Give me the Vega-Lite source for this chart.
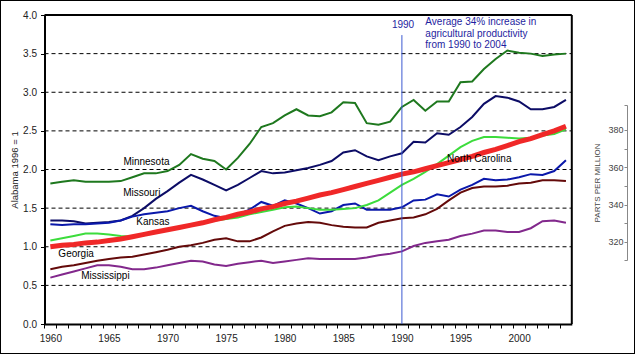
{
  "$schema": "https://vega.github.io/schema/vega-lite/v6.json",
  "width": 635,
  "height": 354,
  "autosize": "none",
  "padding": 0,
  "background": "white",
  "config": {"view": {"stroke": "black", "strokeWidth": 2}, "font": "Liberation Sans", "text": {"font": "Liberation Sans"}},
  "datasets": {
    "series": [
      {"year":1960,"Minnesota":1.82,"Missouri":1.34,"Kansas":1.29,"Georgia":0.71,"Mississippi":0.60,"North Carolina":1.08,"Average":1.00},
      {"year":1961,"Minnesota":1.84,"Missouri":1.34,"Kansas":1.28,"Georgia":0.74,"Mississippi":0.64,"North Carolina":1.11,"Average":1.02},
      {"year":1962,"Minnesota":1.86,"Missouri":1.33,"Kansas":1.29,"Georgia":0.76,"Mississippi":0.68,"North Carolina":1.14,"Average":1.03},
      {"year":1963,"Minnesota":1.84,"Missouri":1.30,"Kansas":1.29,"Georgia":0.79,"Mississippi":0.72,"North Carolina":1.17,"Average":1.05},
      {"year":1964,"Minnesota":1.84,"Missouri":1.31,"Kansas":1.30,"Georgia":0.82,"Mississippi":0.76,"North Carolina":1.17,"Average":1.06},
      {"year":1965,"Minnesota":1.84,"Missouri":1.32,"Kansas":1.31,"Georgia":0.84,"Mississippi":0.76,"North Carolina":1.16,"Average":1.08},
      {"year":1966,"Minnesota":1.85,"Missouri":1.34,"Kansas":1.34,"Georgia":0.86,"Mississippi":0.74,"North Carolina":1.14,"Average":1.10},
      {"year":1967,"Minnesota":1.90,"Missouri":1.40,"Kansas":1.39,"Georgia":0.87,"Mississippi":0.71,"North Carolina":1.13,"Average":1.13},
      {"year":1968,"Minnesota":1.95,"Missouri":1.50,"Kansas":1.42,"Georgia":0.90,"Mississippi":0.71,"North Carolina":1.15,"Average":1.16},
      {"year":1969,"Minnesota":1.95,"Missouri":1.62,"Kansas":1.44,"Georgia":0.93,"Mississippi":0.73,"North Carolina":1.18,"Average":1.19},
      {"year":1970,"Minnesota":1.98,"Missouri":1.72,"Kansas":1.46,"Georgia":0.96,"Mississippi":0.76,"North Carolina":1.21,"Average":1.22},
      {"year":1971,"Minnesota":2.06,"Missouri":1.83,"Kansas":1.50,"Georgia":1.00,"Mississippi":0.79,"North Carolina":1.24,"Average":1.25},
      {"year":1972,"Minnesota":2.20,"Missouri":1.93,"Kansas":1.53,"Georgia":1.02,"Mississippi":0.82,"North Carolina":1.27,"Average":1.28},
      {"year":1973,"Minnesota":2.14,"Missouri":1.87,"Kansas":1.46,"Georgia":1.05,"Mississippi":0.81,"North Carolina":1.30,"Average":1.31},
      {"year":1974,"Minnesota":2.11,"Missouri":1.80,"Kansas":1.40,"Georgia":1.09,"Mississippi":0.77,"North Carolina":1.34,"Average":1.35},
      {"year":1975,"Minnesota":2.00,"Missouri":1.73,"Kansas":1.37,"Georgia":1.11,"Mississippi":0.75,"North Carolina":1.36,"Average":1.38},
      {"year":1976,"Minnesota":2.15,"Missouri":1.80,"Kansas":1.42,"Georgia":1.07,"Mississippi":0.78,"North Carolina":1.38,"Average":1.42},
      {"year":1977,"Minnesota":2.33,"Missouri":1.89,"Kansas":1.48,"Georgia":1.07,"Mississippi":0.80,"North Carolina":1.42,"Average":1.45},
      {"year":1978,"Minnesota":2.55,"Missouri":1.98,"Kansas":1.58,"Georgia":1.12,"Mississippi":0.82,"North Carolina":1.45,"Average":1.49},
      {"year":1979,"Minnesota":2.60,"Missouri":1.95,"Kansas":1.53,"Georgia":1.20,"Mississippi":0.79,"North Carolina":1.48,"Average":1.52},
      {"year":1980,"Minnesota":2.70,"Missouri":1.96,"Kansas":1.60,"Georgia":1.27,"Mississippi":0.81,"North Carolina":1.51,"Average":1.56},
      {"year":1981,"Minnesota":2.78,"Missouri":1.99,"Kansas":1.56,"Georgia":1.30,"Mississippi":0.83,"North Carolina":1.52,"Average":1.59},
      {"year":1982,"Minnesota":2.70,"Missouri":2.02,"Kansas":1.50,"Georgia":1.32,"Mississippi":0.85,"North Carolina":1.50,"Average":1.63},
      {"year":1983,"Minnesota":2.69,"Missouri":2.06,"Kansas":1.43,"Georgia":1.31,"Mississippi":0.84,"North Carolina":1.48,"Average":1.67},
      {"year":1984,"Minnesota":2.74,"Missouri":2.11,"Kansas":1.46,"Georgia":1.28,"Mississippi":0.84,"North Carolina":1.48,"Average":1.70},
      {"year":1985,"Minnesota":2.87,"Missouri":2.22,"Kansas":1.54,"Georgia":1.26,"Mississippi":0.84,"North Carolina":1.49,"Average":1.74},
      {"year":1986,"Minnesota":2.86,"Missouri":2.25,"Kansas":1.56,"Georgia":1.25,"Mississippi":0.84,"North Carolina":1.50,"Average":1.78},
      {"year":1987,"Minnesota":2.60,"Missouri":2.17,"Kansas":1.48,"Georgia":1.25,"Mississippi":0.86,"North Carolina":1.54,"Average":1.82},
      {"year":1988,"Minnesota":2.58,"Missouri":2.12,"Kansas":1.48,"Georgia":1.31,"Mississippi":0.89,"North Carolina":1.60,"Average":1.86},
      {"year":1989,"Minnesota":2.62,"Missouri":2.17,"Kansas":1.48,"Georgia":1.34,"Mississippi":0.91,"North Carolina":1.70,"Average":1.90},
      {"year":1990,"Minnesota":2.81,"Missouri":2.21,"Kansas":1.51,"Georgia":1.37,"Mississippi":0.94,"North Carolina":1.80,"Average":1.94},
      {"year":1991,"Minnesota":2.90,"Missouri":2.36,"Kansas":1.60,"Georgia":1.38,"Mississippi":1.01,"North Carolina":1.88,"Average":1.97},
      {"year":1992,"Minnesota":2.76,"Missouri":2.35,"Kansas":1.61,"Georgia":1.42,"Mississippi":1.05,"North Carolina":1.97,"Average":2.01},
      {"year":1993,"Minnesota":2.88,"Missouri":2.47,"Kansas":1.68,"Georgia":1.49,"Mississippi":1.07,"North Carolina":2.07,"Average":2.05},
      {"year":1994,"Minnesota":2.88,"Missouri":2.45,"Kansas":1.65,"Georgia":1.60,"Mississippi":1.09,"North Carolina":2.18,"Average":2.09},
      {"year":1995,"Minnesota":3.13,"Missouri":2.55,"Kansas":1.74,"Georgia":1.70,"Mississippi":1.14,"North Carolina":2.29,"Average":2.13},
      {"year":1996,"Minnesota":3.14,"Missouri":2.68,"Kansas":1.80,"Georgia":1.76,"Mississippi":1.17,"North Carolina":2.37,"Average":2.17},
      {"year":1997,"Minnesota":3.30,"Missouri":2.85,"Kansas":1.88,"Georgia":1.78,"Mississippi":1.21,"North Carolina":2.42,"Average":2.22},
      {"year":1998,"Minnesota":3.43,"Missouri":2.95,"Kansas":1.86,"Georgia":1.78,"Mississippi":1.21,"North Carolina":2.42,"Average":2.26},
      {"year":1999,"Minnesota":3.54,"Missouri":2.93,"Kansas":1.87,"Georgia":1.79,"Mississippi":1.19,"North Carolina":2.41,"Average":2.31},
      {"year":2000,"Minnesota":3.51,"Missouri":2.88,"Kansas":1.90,"Georgia":1.82,"Mississippi":1.19,"North Carolina":2.40,"Average":2.36},
      {"year":2001,"Minnesota":3.50,"Missouri":2.78,"Kansas":1.94,"Georgia":1.83,"Mississippi":1.24,"North Carolina":2.41,"Average":2.40},
      {"year":2002,"Minnesota":3.47,"Missouri":2.78,"Kansas":1.93,"Georgia":1.86,"Mississippi":1.33,"North Carolina":2.44,"Average":2.45},
      {"year":2003,"Minnesota":3.49,"Missouri":2.81,"Kansas":1.98,"Georgia":1.86,"Mississippi":1.34,"North Carolina":2.46,"Average":2.50},
      {"year":2004,"Minnesota":3.50,"Missouri":2.90,"Kansas":2.12,"Georgia":1.85,"Mississippi":1.31,"North Carolina":2.52,"Average":2.56}
    ],
    "labels": [
      {"label":"Minnesota","year":1968.2,"value":2.10},
      {"label":"Missouri","year":1967.8,"value":1.70},
      {"label":"Kansas","year":1968.75,"value":1.32},
      {"label":"Georgia","year":1962.2,"value":0.905},
      {"label":"Mississippi","year":1964.7,"value":0.62},
      {"label":"North Carolina","year":1996.6,"value":2.13}
    ],
    "notes": [
      {"text":"Average 34% increase in","year":1992.0,"value":3.909},
      {"text":"agricultural productivity","year":1992.0,"value":3.76},
      {"text":"from 1990 to 2004","year":1992.0,"value":3.612}
    ],
    "grid": [{"g":0.5},{"g":1.0},{"g":1.5},{"g":2.0},{"g":2.5},{"g":3.0},{"g":3.5}],
    "ppm": [{"ppm":320},{"ppm":380}]
  },
  "layer": [
    {
      "resolve": {"axis": {"x": "independent", "y": "independent"}},
      "layer": [
        {
          "data": {"name": "grid"},
          "mark": {"type": "rule", "strokeDash": [4, 3], "color": "black", "strokeWidth": 1},
          "encoding": {
            "y": {"field": "g", "type": "quantitative", "scale": {"domain": [0, 4], "range": [324, 15]},
              "axis": {"orient": "left", "offset": -44.5, "values": [0,0.5,1,1.5,2,2.5,3,3.5,4], "format": ".1f",
                "tickSize": 4, "tickColor": "black", "domainColor": "black", "domainWidth": 2, "labelFontSize": 10, "labelColor": "#222",
                "labelPadding": 4, "labelFlush": false, "grid": false, "title": "Alabama 1996 = 1", "titleFontSize": 9.5,
                "titleFontWeight": "normal", "titleColor": "#222", "titlePadding": 3}},
            "x": {"datum": 1959.5, "type": "quantitative", "scale": {"domain": [1959.5, 2004.5], "range": [44.5, 571.8]},
              "axis": {"orient": "bottom", "offset": -30, "values": [1960,1961,1962,1963,1964,1965,1966,1967,1968,1969,1970,1971,1972,1973,1974,1975,1976,1977,1978,1979,1980,1981,1982,1983,1984,1985,1986,1987,1988,1989,1990,1991,1992,1993,1994,1995,1996,1997,1998,1999,2000,2001,2002,2003,2004],
                "format": "d", "labelExpr": "datum.value % 5 === 0 ? datum.label : ''", "tickOffset": -5.86, "labelOffset": 5.86,
                "labelFlush": false, "labelOverlap": false, "tickSize": 4, "tickColor": "black", "domainColor": "black", "domainWidth": 2,
                "labelFontSize": 10, "labelColor": "#222", "labelPadding": 5, "grid": false, "title": null}},
            "x2": {"datum": 2004.5}
          }
        },
        {
          "data": {"name": "series"},
          "transform": [{"fold": ["Minnesota", "Missouri", "Kansas", "Georgia", "Mississippi", "North Carolina"], "as": ["state", "value"]}],
          "mark": {"type": "line", "strokeWidth": 2},
          "encoding": {
            "x": {"field": "year", "type": "quantitative", "scale": {"domain": [1959.5, 2004.5], "range": [44.5, 571.8]}, "axis": null},
            "y": {"field": "value", "type": "quantitative", "scale": {"domain": [0, 4], "range": [324, 15]}, "axis": null},
            "color": {"field": "state", "type": "nominal",
              "scale": {"domain": ["Minnesota", "Missouri", "Kansas", "Georgia", "Mississippi", "North Carolina"],
                "range": ["#1e781e", "#0c0c66", "#0a18aa", "#640a0a", "#82288c", "#3cdc3c"]}, "legend": null}
          }
        },
        {
          "data": {"name": "series"},
          "mark": {"type": "line", "strokeWidth": 5, "color": "#f02828"},
          "encoding": {
            "x": {"field": "year", "type": "quantitative", "scale": {"domain": [1959.5, 2004.5], "range": [44.5, 571.8]}, "axis": null},
            "y": {"field": "Average", "type": "quantitative", "scale": {"domain": [0, 4], "range": [324, 15]}, "axis": null}
          }
        },
        {
          "data": {"values": [{"year": 1990, "lo": 0, "hi": 3.74}]},
          "mark": {"type": "rule", "color": "#3c5ad2", "strokeWidth": 1},
          "encoding": {
            "x": {"field": "year", "type": "quantitative", "scale": {"domain": [1959.5, 2004.5], "range": [44.5, 571.8]}, "axis": null},
            "y": {"field": "lo", "type": "quantitative", "scale": {"domain": [0, 4], "range": [324, 15]}, "axis": null},
            "y2": {"field": "hi"}
          }
        },
        {
          "data": {"values": [{"edge": "top"}]},
          "mark": {"type": "rule", "color": "black", "strokeWidth": 2},
          "encoding": {
            "x": {"datum": 1959.5, "type": "quantitative", "scale": {"domain": [1959.5, 2004.5], "range": [44.5, 571.8]}, "axis": null},
            "x2": {"datum": 2004.5},
            "y": {"datum": 4, "type": "quantitative", "scale": {"domain": [0, 4], "range": [324, 15]}, "axis": null}
          }
        },
        {
          "data": {"values": [{"edge": "right"}]},
          "mark": {"type": "rule", "color": "black", "strokeWidth": 2},
          "encoding": {
            "x": {"datum": 2004.5, "type": "quantitative", "scale": {"domain": [1959.5, 2004.5], "range": [44.5, 571.8]}, "axis": null},
            "y": {"datum": 0, "type": "quantitative", "scale": {"domain": [0, 4], "range": [324, 15]}, "axis": null},
            "y2": {"datum": 4}
          }
        },
        {
          "data": {"name": "labels"},
          "mark": {"type": "text", "fontSize": 10, "color": "black", "align": "center", "baseline": "middle"},
          "encoding": {
            "x": {"field": "year", "type": "quantitative", "scale": {"domain": [1959.5, 2004.5], "range": [44.5, 571.8]}, "axis": null},
            "y": {"field": "value", "type": "quantitative", "scale": {"domain": [0, 4], "range": [324, 15]}, "axis": null},
            "text": {"field": "label"}
          }
        },
        {
          "data": {"name": "notes"},
          "mark": {"type": "text", "fontSize": 10, "color": "#1e1ea0", "align": "left", "baseline": "middle"},
          "encoding": {
            "x": {"field": "year", "type": "quantitative", "scale": {"domain": [1959.5, 2004.5], "range": [44.5, 571.8]}, "axis": null},
            "y": {"field": "value", "type": "quantitative", "scale": {"domain": [0, 4], "range": [324, 15]}, "axis": null},
            "text": {"field": "text"}
          }
        },
        {
          "data": {"values": [{"text": "1990", "year": 1990.1, "value": 3.87}]},
          "mark": {"type": "text", "fontSize": 10, "color": "#1e1ea0", "align": "center", "baseline": "middle"},
          "encoding": {
            "x": {"field": "year", "type": "quantitative", "scale": {"domain": [1959.5, 2004.5], "range": [44.5, 571.8]}, "axis": null},
            "y": {"field": "value", "type": "quantitative", "scale": {"domain": [0, 4], "range": [324, 15]}, "axis": null},
            "text": {"field": "text"}
          }
        }
      ]
    },
    {
      "data": {"name": "ppm"},
      "mark": {"type": "point", "opacity": 0},
      "encoding": {
        "y": {"field": "ppm", "type": "quantitative", "scale": {"domain": [310.3, 393.4], "range": [260, 105]},
          "axis": {"orient": "left", "offset": -627, "values": [310.3, 320, 330, 340, 350, 360, 370, 380, 393.4], "format": "d",
            "labelExpr": "datum.value % 20 === 0 ? datum.label : ''", "tickSize": 3, "tickColor": "#888", "domainColor": "#888",
            "domainWidth": 1, "labelFontSize": 9, "labelColor": "#444", "labelPadding": 1, "labelFlush": false, "grid": false,
            "title": "PARTS PER MILLION", "titleFontSize": 8, "titleFontWeight": "normal", "titleColor": "#444", "titlePadding": 6}}
      }
    }
  ],
  "resolve": {"scale": {"y": "independent"}}
}
